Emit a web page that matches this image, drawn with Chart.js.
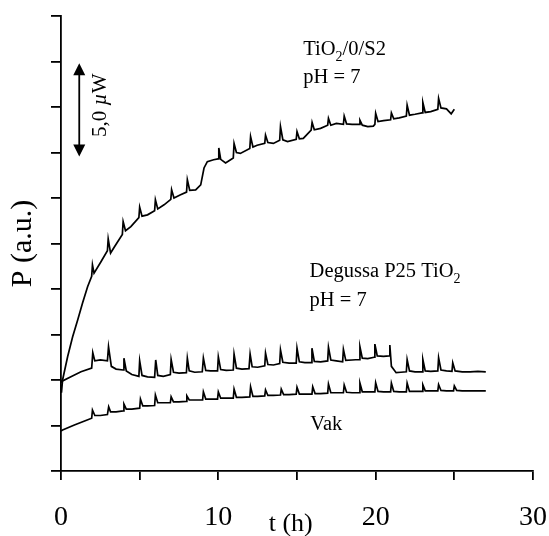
<!DOCTYPE html>
<html>
<head>
<meta charset="utf-8">
<script src="https://cdn.jsdelivr.net/npm/chart.js@4"></script>
<style>
  html, body { margin: 0; padding: 0; background: #fff; }
  #chart { display: block; }
</style>
</head>
<body>
<canvas id="chart" width="549" height="536"></canvas>
<script>
const SERIF = '"Liberation Serif", "DejaVu Serif", serif';
const INK = '#000';

// P (a.u.) over t (h); each entry is [t, P], one tick on the P axis = 2.5 µW
const tio2S2 = [
  [0, 1.9], [0.03, 1.72], [0.1, 2.0], [0.42, 2.51], [0.74, 2.95], [1.06, 3.32], [1.37, 3.69], [1.69, 4.05],
  [1.95, 4.28], [2.0, 4.53], [2.1, 4.35], [2.54, 4.6],
  [2.95, 4.84], [3.0, 5.1], [3.15, 4.79], [3.4, 4.93],
  [3.9, 5.2], [3.95, 5.48], [4.1, 5.28], [4.44, 5.37],
  [4.95, 5.57], [5.0, 5.8], [5.15, 5.6], [5.5, 5.63],
  [5.95, 5.72], [6.0, 5.96], [6.15, 5.76], [6.55, 5.85],
  [6.98, 5.97], [7.03, 6.18], [7.18, 6.0], [7.6, 6.07],
  [7.98, 6.13], [8.03, 6.4], [8.18, 6.17], [8.56, 6.18], [8.88, 6.29], [9.09, 6.66], [9.3, 6.8], [9.7, 6.84],
  [9.98, 6.86], [10.03, 7.1], [10.15, 6.85], [10.46, 6.77], [10.9, 6.87],
  [10.95, 6.88], [11.0, 7.2], [11.15, 7.0], [11.4, 6.98],
  [12.0, 7.09], [12.05, 7.35], [12.2, 7.12], [12.47, 7.16],
  [12.95, 7.2], [13.0, 7.38], [13.15, 7.22], [13.5, 7.2],
  [13.9, 7.27], [13.95, 7.57], [14.1, 7.28], [14.4, 7.24],
  [14.95, 7.29], [15.0, 7.46], [15.15, 7.3], [15.4, 7.31],
  [15.9, 7.49], [15.96, 7.66], [16.1, 7.5], [16.5, 7.53],
  [16.95, 7.6], [17.0, 7.75], [17.15, 7.6], [17.5, 7.64],
  [17.95, 7.62], [18.0, 7.8], [18.15, 7.63], [18.5, 7.62],
  [18.95, 7.62], [19.0, 7.71], [19.15, 7.6], [19.5, 7.57], [19.85, 7.58],
  [19.95, 7.62], [20.0, 7.86], [20.15, 7.68], [20.5, 7.7],
  [20.95, 7.72], [21.0, 7.87], [21.15, 7.74], [21.5, 7.76],
  [21.95, 7.8], [22.0, 8.04], [22.15, 7.82], [22.5, 7.84],
  [22.95, 7.87], [23.0, 8.1], [23.15, 7.88], [23.5, 7.9],
  [23.95, 7.95], [24.0, 8.19], [24.15, 7.98], [24.5, 7.96], [24.8, 7.85], [25.0, 7.95]
];

const degussaP25 = [
  [0, 2.0], [0.05, 1.97], [0.63, 2.07], [1.27, 2.18], [1.95, 2.26], [2.02, 2.6], [2.15, 2.42], [2.5, 2.44],
  [2.95, 2.42], [3.02, 2.73], [3.2, 2.3], [3.5, 2.24],
  [3.95, 2.22], [4.0, 2.48], [4.15, 2.2], [4.5, 2.12],
  [4.95, 2.08], [5.0, 2.42], [5.15, 2.1], [5.5, 2.07],
  [5.95, 2.06], [6.02, 2.44], [6.15, 2.1], [6.5, 2.08],
  [6.95, 2.12], [7.0, 2.45], [7.15, 2.17], [7.5, 2.15],
  [7.97, 2.16], [8.03, 2.48], [8.15, 2.2], [8.5, 2.17],
  [8.98, 2.18], [9.05, 2.48], [9.2, 2.21], [9.5, 2.2],
  [9.95, 2.2], [10.0, 2.51], [10.15, 2.23], [10.5, 2.21],
  [10.95, 2.22], [11.0, 2.57], [11.15, 2.26], [11.5, 2.24],
  [11.95, 2.25], [12.02, 2.57], [12.15, 2.29], [12.5, 2.28],
  [12.95, 2.31], [13.0, 2.59], [13.15, 2.34], [13.5, 2.33],
  [13.9, 2.36], [13.95, 2.66], [14.1, 2.39], [14.5, 2.37],
  [14.95, 2.37], [15.0, 2.7], [15.15, 2.4], [15.5, 2.38],
  [15.9, 2.38], [15.95, 2.7], [16.1, 2.41], [16.5, 2.4],
  [16.95, 2.42], [17.0, 2.72], [17.15, 2.44], [17.5, 2.42],
  [17.9, 2.4], [17.95, 2.67], [18.1, 2.43], [18.5, 2.44],
  [18.95, 2.45], [19.0, 2.73], [19.15, 2.48], [19.5, 2.47],
  [19.9, 2.5], [19.95, 2.79], [20.1, 2.53], [20.5, 2.52],
  [20.85, 2.53], [20.9, 2.77], [21.0, 2.3], [21.3, 2.16], [21.6, 2.17],
  [21.95, 2.18], [22.0, 2.45], [22.15, 2.2], [22.5, 2.18],
  [22.95, 2.18], [23.0, 2.45], [23.15, 2.2], [23.5, 2.19],
  [23.95, 2.2], [24.0, 2.49], [24.15, 2.22], [24.5, 2.2],
  [24.85, 2.19], [24.9, 2.38], [25.05, 2.2], [25.5, 2.18], [26, 2.18], [26.5, 2.19], [27, 2.18]
];

const vakuum = [
  [0, 0.88], [0.1, 0.9], [0.85, 1.01], [1.5, 1.1],
  [1.95, 1.16], [2.0, 1.34], [2.15, 1.22], [2.5, 1.22],
  [2.95, 1.24], [3.03, 1.41], [3.15, 1.3], [3.5, 1.3],
  [3.95, 1.32], [4.0, 1.47], [4.15, 1.36], [4.5, 1.36],
  [5.0, 1.38], [5.05, 1.58], [5.2, 1.43], [5.5, 1.43],
  [5.95, 1.44], [6.0, 1.67], [6.15, 1.5], [6.5, 1.5],
  [6.95, 1.5], [7.0, 1.63], [7.15, 1.52], [7.5, 1.52],
  [7.95, 1.53], [8.0, 1.65], [8.15, 1.56], [8.5, 1.56],
  [9.0, 1.56], [9.05, 1.74], [9.2, 1.58], [9.5, 1.58],
  [9.95, 1.58], [10.0, 1.74], [10.15, 1.6], [10.5, 1.6],
  [10.95, 1.6], [11.0, 1.8], [11.15, 1.62], [11.5, 1.62],
  [12.0, 1.63], [12.05, 1.85], [12.2, 1.64], [12.5, 1.64],
  [12.95, 1.65], [13.0, 1.78], [13.15, 1.66], [13.5, 1.66],
  [13.95, 1.67], [14.0, 1.8], [14.15, 1.68], [14.5, 1.68],
  [14.95, 1.69], [15.0, 1.84], [15.15, 1.69], [15.5, 1.69],
  [15.95, 1.69], [16.0, 1.85], [16.15, 1.7], [16.5, 1.7],
  [16.95, 1.71], [17.0, 1.91], [17.15, 1.72], [17.5, 1.72],
  [17.95, 1.72], [18.0, 1.89], [18.15, 1.73], [18.5, 1.72],
  [18.95, 1.72], [19.0, 1.93], [19.15, 1.74], [19.5, 1.74],
  [19.95, 1.74], [20.0, 1.94], [20.15, 1.75], [20.5, 1.74],
  [20.95, 1.74], [21.0, 1.93], [21.15, 1.75], [21.5, 1.74],
  [21.95, 1.74], [22.0, 1.93], [22.15, 1.75], [22.5, 1.75],
  [22.95, 1.75], [23.0, 1.89], [23.15, 1.76], [23.5, 1.76],
  [23.95, 1.76], [24.0, 1.9], [24.15, 1.77], [24.5, 1.76],
  [24.95, 1.76], [25.0, 1.87], [25.15, 1.77], [25.5, 1.76], [26, 1.76], [26.5, 1.76], [27, 1.76]
];

const xTickLabels = [0, 10, 20, 30];

const toXY = (pairs) => pairs.map(([t, p]) => ({ x: t, y: p }));

// draws a run of text pieces; 'sub' pieces are shrunk and lowered, 'it' pieces italic
function richText(ctx, px, py, parts, size, align) {
  const fontFor = (kind) => kind === 'sub' ? `${Math.round(size * 0.68)}px ${SERIF}`
    : kind === 'it' ? `italic ${size}px ${SERIF}` : `${size}px ${SERIF}`;
  let total = 0;
  parts.forEach(([txt, kind]) => { ctx.font = fontFor(kind); total += ctx.measureText(txt).width; });
  let cx = align === 'center' ? px - total / 2 : px;
  ctx.textAlign = 'left';
  parts.forEach(([txt, kind]) => {
    ctx.font = fontFor(kind);
    ctx.fillText(txt, cx, kind === 'sub' ? py + size * 0.28 : py);
    cx += ctx.measureText(txt).width;
  });
}

const annotations = {
  id: 'annotations',
  afterDraw(chart) {
    const { ctx, scales: { x, y }, chartArea } = chart;
    ctx.save();
    ctx.fillStyle = INK;
    ctx.strokeStyle = INK;
    ctx.textBaseline = 'alphabetic';

    richText(ctx, x.getPixelForValue(15.4), y.getPixelForValue(9.14), [['TiO'], ['2', 'sub'], ['/0/S2']], 20.5);
    richText(ctx, x.getPixelForValue(15.4), y.getPixelForValue(8.53), [['pH = 7']], 20.5);
    richText(ctx, x.getPixelForValue(15.8), y.getPixelForValue(4.26), [['Degussa P25 TiO'], ['2', 'sub']], 20.5);
    richText(ctx, x.getPixelForValue(15.8), y.getPixelForValue(3.63), [['pH = 7']], 20.5);
    richText(ctx, x.getPixelForValue(15.85), y.getPixelForValue(0.9), [['Vak']], 20.5);

    // scale bar: 2 ticks = 5,0 µW
    const ax = x.getPixelForValue(1.16);
    const top = y.getPixelForValue(8.96);
    const bot = y.getPixelForValue(6.91);
    const head = 12, half = 6;
    ctx.lineWidth = 1.8;
    ctx.beginPath();
    ctx.moveTo(ax, top + head - 1);
    ctx.lineTo(ax, bot - head + 1);
    ctx.stroke();
    ctx.beginPath();
    ctx.moveTo(ax, top); ctx.lineTo(ax - half, top + head); ctx.lineTo(ax + half, top + head); ctx.closePath();
    ctx.moveTo(ax, bot); ctx.lineTo(ax - half, bot - head); ctx.lineTo(ax + half, bot - head); ctx.closePath();
    ctx.fill();

    ctx.save();
    ctx.translate(x.getPixelForValue(2.54), y.getPixelForValue(8.04));
    ctx.rotate(-Math.PI / 2);
    ctx.textBaseline = 'middle';
    richText(ctx, 0, 0, [['5,0 '], ['\u00b5', 'it'], ['W']], 21, 'center');
    ctx.restore();

    // x axis title sits a little left of centre in the original
    ctx.font = `26px ${SERIF}`;
    ctx.textAlign = 'center';
    ctx.textBaseline = 'middle';
    ctx.fillText('t (h)', x.getPixelForValue(14.6), chartArea.bottom + 53);
    ctx.restore();
  }
};

const lineStyle = {
  showLine: true,
  borderColor: INK,
  borderWidth: 1.7,
  pointRadius: 0,
  tension: 0,
  fill: false,
};

new Chart(document.getElementById('chart'), {
  type: 'scatter',
  data: {
    datasets: [
      { label: 'TiO2/0/S2', data: toXY(tio2S2), ...lineStyle },
      { label: 'Degussa P25 TiO2', data: toXY(degussaP25), ...lineStyle },
      { label: 'Vak', data: toXY(vakuum), ...lineStyle },
    ],
  },
  options: {
    responsive: false,
    animation: false,
    events: [],
    layout: { padding: { top: 16, right: 16, left: 0, bottom: 0 } },
    plugins: { legend: { display: false }, tooltip: { enabled: false } },
    scales: {
      x: {
        type: 'linear',
        min: 0,
        max: 30,
        afterFit: (s) => { s.height = 65; s.paddingLeft = 0; s.paddingRight = 0; },
        border: { color: INK, width: 1.8 },
        grid: { drawOnChartArea: false, drawTicks: true, tickLength: 9, color: INK, lineWidth: 1.8 },
        ticks: {
          stepSize: 5,
          autoSkip: false,
          maxRotation: 0,
          padding: 21,
          color: INK,
          font: { family: SERIF, size: 28 },
          callback: (v) => (xTickLabels.includes(v) ? String(v) : ''),
        },
      },
      y: {
        type: 'linear',
        min: 0,
        max: 10,
        afterFit: (s) => { s.width = 61; s.paddingTop = 0; s.paddingBottom = 0; },
        border: { color: INK, width: 1.8 },
        grid: { drawOnChartArea: false, drawTicks: true, tickLength: 10, color: INK, lineWidth: 1.8 },
        ticks: { stepSize: 1, autoSkip: false, callback: () => '' },
        title: {
          display: true,
          text: 'P (a.u.)',
          color: INK,
          font: { family: SERIF, size: 30 },
          padding: { top: 5, bottom: 0 },
        },
      },
    },
  },
  plugins: [annotations],
});
</script>
</body>
</html>
